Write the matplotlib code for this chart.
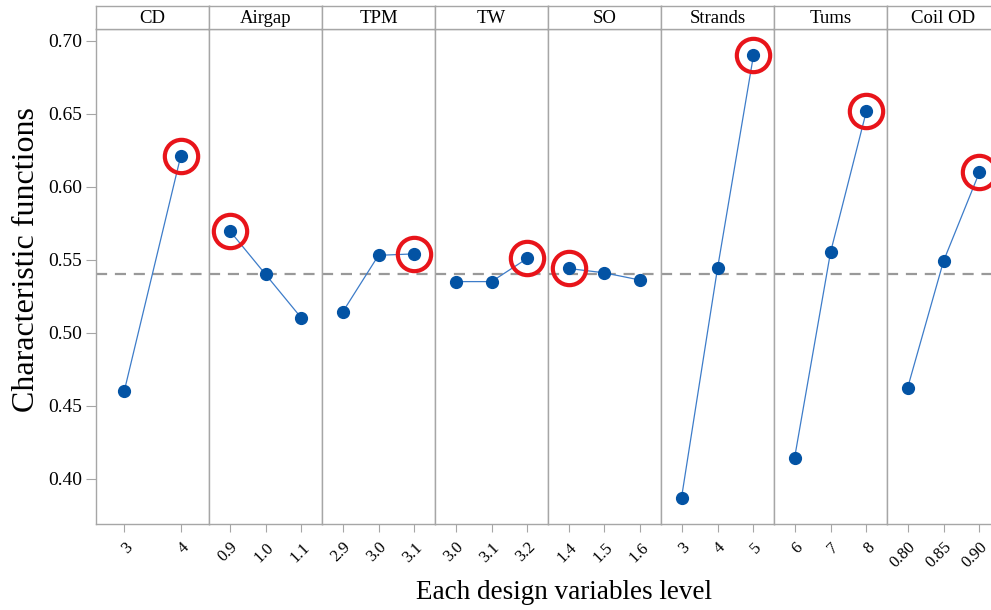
import matplotlib.pyplot as plt
import numpy as np

plt.rcParams['font.family'] = ['Liberation Serif', 'DejaVu Serif']

# factor names and their levels
factors = ['CD', 'Airgap', 'TPM', 'TW', 'SO', 'Strands', 'Tums', 'Coil OD']
levels = [
    ['3', '4'],
    ['0.9', '1.0', '1.1'],
    ['2.9', '3.0', '3.1'],
    ['3.0', '3.1', '3.2'],
    ['1.4', '1.5', '1.6'],
    ['3', '4', '5'],
    ['6', '7', '8'],
    ['0.80', '0.85', '0.90'],
]

# characteristic function per level
cd = [0.460, 0.621]
airgap = [0.570, 0.540, 0.510]
tpm = [0.514, 0.553, 0.554]
tw = [0.535, 0.535, 0.551]
so = [0.544, 0.541, 0.536]
strands = [0.387, 0.544, 0.690]
turns = [0.414, 0.555, 0.652]
coil_od = [0.462, 0.549, 0.610]
values = [cd, airgap, tpm, tw, so, strands, turns, coil_od]

overall_mean = 0.54

W, H = 991, 610
fig = plt.figure(figsize=(W / 100, H / 100), dpi=100)

gray = '#a6a6a6'
x0, pw = 96, 113
y_top, y_bot, y_head = 29, 524, 6

for i, (name, lev, vals) in enumerate(zip(factors, levels, values)):
    left = (x0 + pw * i) / W
    ax = fig.add_axes([left, (H - y_bot) / H, pw / W, (y_bot - y_top) / H])
    xs = np.arange(len(lev))
    pad = 0.5 if len(lev) == 2 else 0.57
    ax.set_xlim(-pad, len(lev) - 1 + pad)
    ax.set_ylim(0.369, 0.708)
    ax.axhline(overall_mean, color='#999999', lw=1.6, ls=(0, (5, 3.5)), zorder=1)
    ax.plot(xs, vals, color='#3d7cc9', lw=0.9, zorder=2)
    ax.plot(xs, vals, 'o', color='#0353a4', ms=8.5, zorder=3)
    best = int(np.argmax(vals))
    ax.plot(xs[best], vals[best], 'o', ms=24, mfc='none', mec='#e8141a', mew=3,
            zorder=4, clip_on=False)

    ax.set_xticks(xs)
    ax.set_xticklabels(lev, rotation=45, ha='right', rotation_mode='anchor', fontsize=12)
    ax.tick_params(axis='x', length=6, color=gray, direction='out', pad=5)
    for s in ax.spines.values():
        s.set_color(gray)
        s.set_linewidth(1.0)
    if i == 0:
        ax.set_yticks(np.arange(0.40, 0.701, 0.05))
        ax.set_yticklabels(['%.2f' % v for v in np.arange(0.40, 0.701, 0.05)], fontsize=14)
        ax.tick_params(axis='y', length=7, color=gray, direction='out', pad=3)
        ax.set_ylabel('Characteristic functions', fontsize=23)
        ax.yaxis.set_label_coords(-0.49, 0.535)
    else:
        ax.set_yticks([])

    # header strip
    hx = fig.add_axes([left, (H - y_top) / H, pw / W, (y_top - y_head) / H])
    hx.set_xticks([])
    hx.set_yticks([])
    for s in hx.spines.values():
        s.set_color(gray)
        s.set_linewidth(1.0)
    hx.text(0.5, 0.45, name, ha='center', va='center', fontsize=13.5, transform=hx.transAxes)

fig.text(564 / W, 0.008, 'Each design variables level', ha='center',
         va='bottom', fontsize=19.5)

fig.savefig('out.png', dpi=100)
